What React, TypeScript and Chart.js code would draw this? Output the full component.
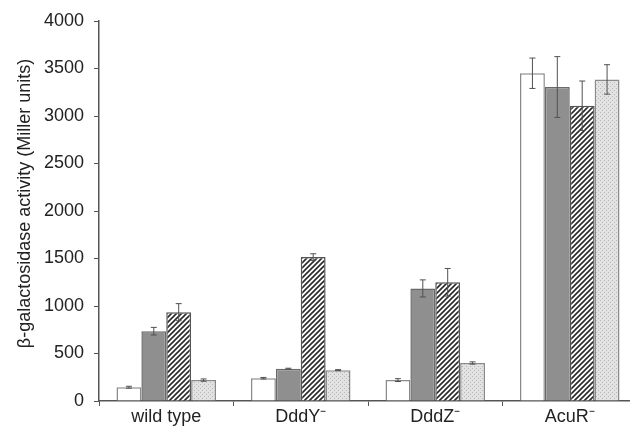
import React, { useEffect, useRef } from "react";
import { Chart, registerables } from "chart.js";

Chart.register(...registerables);

const categories = ["wild type", "DddY\u207B", "DddZ\u207B", "AcuR\u207B"];
const seriesA = [145, 240, 220, 3450];
const seriesB = [735, 340, 1185, 3305];
const seriesC = [935, 1515, 1250, 3108];
const seriesD = [220, 325, 400, 3385];
const errA = [10, 8, 15, 160];
const errB = [40, 5, 90, 320];
const errC = [90, 35, 145, 260];
const errD = [12, 5, 12, 155];
const yTicks = [0, 500, 1000, 1500, 2000, 2500, 3000, 3500, 4000];

function hatchPattern(): CanvasPattern | string {
  const c = document.createElement("canvas");
  c.width = 5;
  c.height = 5;
  const g = c.getContext("2d");
  if (!g) return "#777";
  g.fillStyle = "#ffffff";
  g.fillRect(0, 0, 5, 5);
  g.strokeStyle = "#2a2a2a";
  g.lineWidth = 1.6;
  g.beginPath();
  g.moveTo(-1, 6);
  g.lineTo(6, -1);
  g.moveTo(-3.5, 3.5);
  g.lineTo(3.5, -3.5);
  g.moveTo(1.5, 8.5);
  g.lineTo(8.5, 1.5);
  g.stroke();
  return g.createPattern(c, "repeat") || "#777";
}

function dotPattern(): CanvasPattern | string {
  const c = document.createElement("canvas");
  c.width = 4;
  c.height = 4;
  const g = c.getContext("2d");
  if (!g) return "#ddd";
  g.fillStyle = "#e2e2e2";
  g.fillRect(0, 0, 4, 4);
  g.fillStyle = "#b8b8b8";
  g.fillRect(0, 0, 1, 1);
  g.fillRect(2, 2, 1, 1);
  return g.createPattern(c, "repeat") || "#ddd";
}

const errorBars = {
  id: "errorBars",
  afterDatasetsDraw(chart: any) {
    const ctx = chart.ctx;
    const y = chart.scales.y;
    const errs = [errA, errB, errC, errD];
    ctx.save();
    ctx.strokeStyle = "#505050";
    ctx.lineWidth = 1;
    chart.data.datasets.forEach((ds: any, i: number) => {
      const meta = chart.getDatasetMeta(i);
      meta.data.forEach((bar: any, j: number) => {
        const v = ds.data[j];
        const e = errs[i][j];
        const yt = y.getPixelForValue(v + e);
        const yb = y.getPixelForValue(v - e);
        const x = bar.x;
        ctx.beginPath();
        ctx.moveTo(x, yt);
        ctx.lineTo(x, yb);
        ctx.moveTo(x - 3, yt);
        ctx.lineTo(x + 3, yt);
        ctx.moveTo(x - 3, yb);
        ctx.lineTo(x + 3, yb);
        ctx.stroke();
      });
    });
    ctx.restore();
  },
};

export default function App() {
  const ref = useRef<HTMLCanvasElement | null>(null);
  useEffect(() => {
    document.body.style.margin = "0";
    document.body.style.overflow = "hidden";
    if (!ref.current) return;
    const font = "'Liberation Sans', Arial, sans-serif";
    const common = { borderWidth: 1.5, barPercentage: 1, categoryPercentage: 0.74 };
    const chart = new Chart(ref.current, {
      type: "bar",
      data: {
        labels: categories,
        datasets: [
          { label: "A", data: seriesA, backgroundColor: "#ffffff", borderColor: "#8a8a8a", ...common },
          { label: "B", data: seriesB, backgroundColor: "#8f8f8f", borderColor: "#6a6a6a", ...common },
          { label: "C", data: seriesC, backgroundColor: hatchPattern() as any, borderColor: "#555555", ...common },
          { label: "D", data: seriesD, backgroundColor: dotPattern() as any, borderColor: "#8a8a8a", ...common },
        ],
      },
      options: {
        animation: false,
        responsive: false,
        layout: { padding: { top: 21, right: 8, bottom: 0, left: 0 } },
        plugins: { legend: { display: false }, tooltip: { enabled: false } },
        scales: {
          x: {
            grid: { drawOnChartArea: false, tickLength: 5, color: "#555" },
            border: { color: "#555", width: 1.5 },
            ticks: { color: "#222", font: { family: font, size: 18 }, padding: 0 },
            afterFit: (s: any) => {
              s.height = 28;
            },
          },
          y: {
            min: 0,
            max: 4000,
            afterBuildTicks: (s: any) => {
              s.ticks = yTicks.map((v) => ({ value: v }));
            },
            grid: { drawOnChartArea: false, tickLength: 5, color: "#555" },
            border: { color: "#555", width: 1.5 },
            ticks: {
              color: "#222",
              font: { family: font, size: 18 },
              padding: 10,
              callback: (v: any) => String(v),
            },
            title: {
              display: true,
              text: "\u00A0\u00A0\u00A0\u03B2-galactosidase activity (Miller units)",
              color: "#222",
              font: { family: font, size: 18 },
              padding: { top: 14, bottom: 0 },
            },
            afterFit: (s: any) => {
              s.width = 99;
            },
          },
        },
      },
      plugins: [errorBars],
    });
    return () => chart.destroy();
  }, []);
  return (
    <div style={{ width: 630, height: 429, overflow: "hidden", position: "relative" }}>
      <canvas ref={ref} width={645} height={429} style={{ display: "block" }} />
    </div>
  );
}
